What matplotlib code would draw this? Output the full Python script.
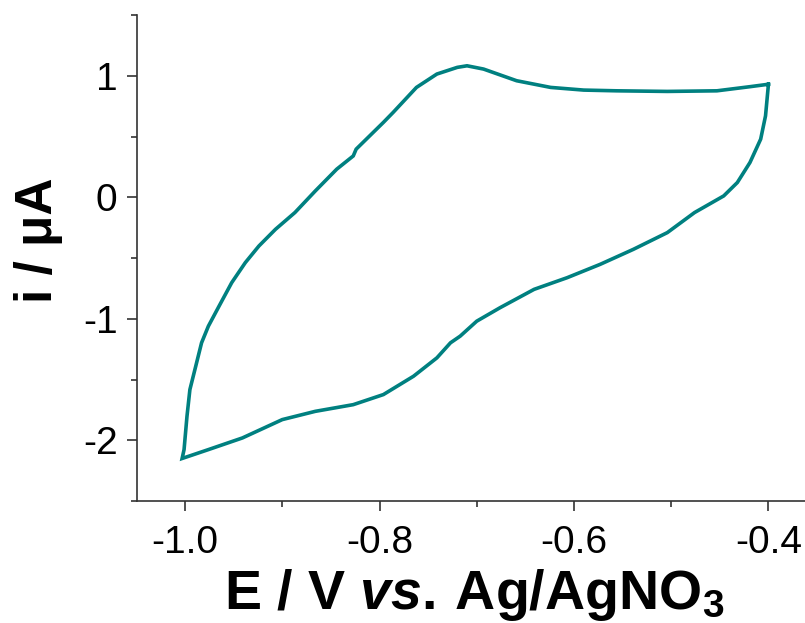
import numpy as np
import matplotlib
matplotlib.use('Agg')
import matplotlib.pyplot as plt
from matplotlib.ticker import MultipleLocator

# Cyclic voltammogram
# upper (anodic) branch, from the -0.4 V vertex going left
upper_e = [-0.400, -0.419, -0.453, -0.504, -0.556, -0.590, -0.624, -0.659,
           -0.693, -0.710, -0.720, -0.741, -0.762, -0.786, -0.796, -0.824,
           -0.827, -0.844, -0.866, -0.887, -0.907, -0.924, -0.938, -0.952,
           -0.965, -0.976, -0.983, -0.989, -0.995, -0.998, -1.001, -1.003]
upper_i = [0.93, 0.91, 0.876, 0.871, 0.876, 0.882, 0.904, 0.959,
           1.055, 1.082, 1.069, 1.014, 0.904, 0.698, 0.616, 0.396,
           0.340, 0.231, 0.052, -0.126, -0.264, -0.401, -0.538, -0.703,
           -0.896, -1.061, -1.198, -1.391, -1.583, -1.803, -2.077, -2.15]

# lower branch, from the -1.0 V vertex going right
lower_e = [-1.003, -0.976, -0.941, -0.900, -0.866, -0.827, -0.796, -0.765,
           -0.741, -0.727, -0.717, -0.700, -0.676, -0.641, -0.607, -0.573,
           -0.539, -0.504, -0.476, -0.446, -0.432, -0.419, -0.408, -0.403,
           -0.400]
lower_i = [-2.15, -2.077, -1.981, -1.830, -1.762, -1.707, -1.624, -1.473,
           -1.322, -1.198, -1.143, -1.020, -0.909, -0.758, -0.662, -0.552,
           -0.429, -0.291, -0.126, 0.011, 0.121, 0.286, 0.478, 0.670,
           0.93]

x_ticks = [-1.0, -0.8, -0.6, -0.4]
y_ticks = [-2, -1, 0, 1]

plt.rcParams['font.family'] = ['Liberation Sans', 'DejaVu Sans']
plt.rcParams['axes.unicode_minus'] = False
plt.rcParams['mathtext.fontset'] = 'custom'
plt.rcParams['mathtext.rm'] = 'Liberation Sans:bold'
plt.rcParams['mathtext.bf'] = 'Liberation Sans:bold'
plt.rcParams['mathtext.it'] = 'Liberation Sans:italic:bold'

fig = plt.figure(figsize=(8.05, 6.23), dpi=100)
ax = fig.add_axes([137 / 805, 1 - 501 / 623, 1 - 137 / 805, (501 - 15) / 623])

e = upper_e + lower_e[1:]
i = upper_i + lower_i[1:]
ax.plot(e, i, color='#008080', lw=2.6, solid_joinstyle='miter')

ax.set_xlim(-1.0494, -0.3624)
ax.set_ylim(-2.5, 1.5)
ax.set_xticks(x_ticks)
ax.set_xticklabels([f'{v:.1f}' for v in x_ticks])
ax.set_yticks(y_ticks)
ax.xaxis.set_minor_locator(MultipleLocator(0.1))
ax.yaxis.set_minor_locator(MultipleLocator(0.5))

for side in ['top', 'right']:
    ax.spines[side].set_visible(False)
for side in ['left', 'bottom']:
    ax.spines[side].set_color('#333333')
    ax.spines[side].set_linewidth(1.2)

ax.tick_params(which='major', direction='out', length=7, width=1.2,
               color='#333333', labelsize=28)
ax.tick_params(axis='x', which='major', pad=10)
ax.tick_params(axis='y', which='major', pad=7)
ax.tick_params(which='minor', direction='out', length=4, width=1.2,
               color='#333333')

ax.set_xlabel(r'E / V $\mathit{vs.}\,$Ag/AgNO$_3$', fontsize=40,
              fontweight='bold', labelpad=0)
ax.xaxis.set_label_coords(0.505, -0.135)
ax.set_ylabel('i / μA', fontsize=37, fontweight='bold', va='center')
ax.yaxis.set_label_coords(-0.148, 0.537)

fig.savefig('out.png', dpi=100)
